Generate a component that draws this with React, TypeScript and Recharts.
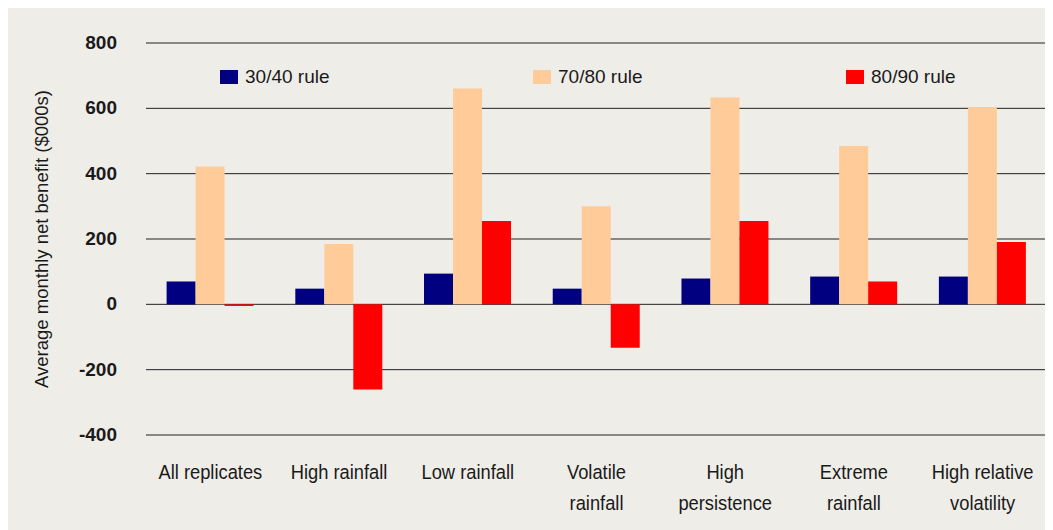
import { BarChart, Bar, XAxis, YAxis, CartesianGrid, Label } from 'recharts'

const categories = [
  'All replicates',
  'High rainfall',
  'Low rainfall',
  'Volatile\nrainfall',
  'High\npersistence',
  'Extreme\nrainfall',
  'High relative\nvolatility',
]
const rule3040 = [70, 48, 94, 48, 79, 85, 85]
const rule7080 = [422, 185, 661, 300, 633, 485, 603]
const rule8090 = [-5, -261, 255, -133, 255, 70, 191]
const yTicks = [-400, -200, 0, 200, 400, 600, 800]

const series = [
  { key: '30/40 rule', color: '#000080', values: rule3040 },
  { key: '70/80 rule', color: '#ffcc99', values: rule7080 },
  { key: '80/90 rule', color: '#ff0000', values: rule8090 },
]

const data = categories.map((name, i) => {
  const row: any = { name }
  series.forEach((s) => (row[s.key] = s.values[i]))
  return row
})

const TEXT = '#1a1a1a'
const FONT = '"Liberation Sans", Arial, sans-serif'

function XTick({ x, y, payload }: any) {
  const lines = String(payload.value).split('\n')
  return (
    <g transform={`translate(${x},${y + 36}) scale(0.94,1)`}>
      {lines.map((line, i) => (
        <text key={i} x={0} y={i * 31} textAnchor='middle' fill={TEXT} fontSize={19.5} fontFamily={FONT}>
          {line}
        </text>
      ))}
    </g>
  )
}

function YTick({ x, y, payload }: any) {
  return (
    <text x={x - 29} y={y} dy={6} textAnchor='end' fill={TEXT} fontSize={19} fontWeight='bold' fontFamily={FONT}>
      {payload.value}
    </text>
  )
}

function ChartLegend() {
  return (
    <div style={{ position: 'absolute', top: 58, left: 212, display: 'flex' }}>
      {series.map((s) => (
        <div key={s.key} style={{ width: 313, display: 'flex', alignItems: 'center' }}>
          <span style={{ width: 18, height: 14, background: s.color, display: 'inline-block', marginRight: 7 }} />
          <span style={{ fontSize: 19, color: TEXT, fontFamily: FONT }}>{s.key}</span>
        </div>
      ))}
    </div>
  )
}

export default function App() {
  return (
    <div style={{ position: 'relative', width: 1045, height: 522, background: '#efede8' }}>
      <BarChart
        width={1045}
        height={522}
        data={data}
        margin={{ top: 35, right: 6, left: 0, bottom: 0 }}
        barCategoryGap='16%'
        barGap={0}
      >
        <CartesianGrid vertical={false} stroke='#222' strokeWidth={1} />
        <XAxis dataKey='name' axisLine={false} tickLine={false} height={95} interval={0} tick={<XTick />} />
        <YAxis
          width={138}
          domain={[-400, 800]}
          ticks={yTicks}
          axisLine={false}
          tickLine={false}
          tickSize={0}
          tickMargin={0}
          tick={<YTick />}
        >
          <Label
            content={({ viewBox }: any) => {
              const cy = viewBox.y + viewBox.height / 2
              return (
                <text
                  x={0}
                  y={0}
                  transform={`translate(40,${cy}) rotate(-90)`}
                  textAnchor='middle'
                  fill={TEXT}
                  fontSize={18.5}
                  fontFamily={FONT}
                >
                  Average monthly net benefit ($000s)
                </text>
              )
            }}
          />
        </YAxis>
        {series.map((s) => (
          <Bar key={s.key} dataKey={s.key} fill={s.color} isAnimationActive={false} />
        ))}
      </BarChart>
      <ChartLegend />
    </div>
  )
}
